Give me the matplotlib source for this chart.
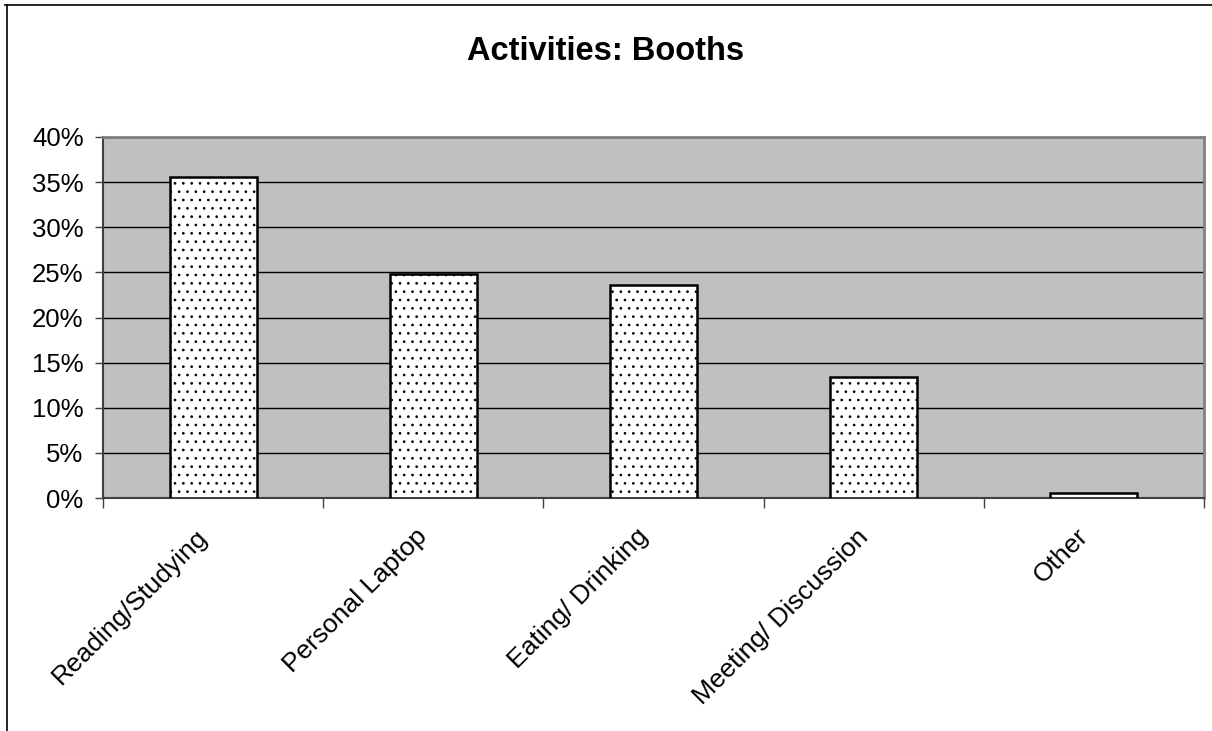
import matplotlib
matplotlib.use("Agg")
import matplotlib.pyplot as plt
from matplotlib.lines import Line2D
from matplotlib.ticker import PercentFormatter
from matplotlib.transforms import ScaledTranslation
import numpy as np

categories = ["Reading/Studying", "Personal Laptop", "Eating/ Drinking",
              "Meeting/ Discussion", "Other"]
shares = [35.6, 24.8, 23.6, 13.4, 0.6]
y_ticks = [0, 5, 10, 15, 20, 25, 30, 35, 40]

plt.rcParams["font.family"] = ["Liberation Sans", "DejaVu Sans"]
plt.rcParams["hatch.linewidth"] = 0.7
plt.rcParams["hatch.color"] = "black"

fig = plt.figure(figsize=(12.12, 7.31), dpi=100)
ax = fig.add_axes([103 / 1212, 1 - 498 / 731, (1204 - 103) / 1212, (498 - 137) / 731])
ax.set_facecolor("#c0c0c0")

x = np.arange(len(categories))
ax.bar(x, shares, width=0.395, color="white", edgecolor="black",
       linewidth=1.8, hatch="..", zorder=3)

ax.set_xlim(-0.5, len(categories) - 0.5)
ax.set_ylim(0, 40)
ax.set_yticks(y_ticks)
ax.yaxis.set_major_formatter(PercentFormatter(decimals=0))
ax.grid(axis="y", color="black", linewidth=1, zorder=1)
ax.set_axisbelow(True)

# category ticks sit between the bars, labels at the bar centres
ax.set_xticks(np.arange(len(categories) + 1) - 0.5)
ax.set_xticklabels([])
ax.set_xticks(x, minor=True)
ax.set_xticklabels(categories, minor=True, rotation=45, ha="right",
                   va="top", rotation_mode="anchor", fontsize=19)
ax.tick_params(axis="x", which="minor", length=0, pad=19)
ax.tick_params(axis="x", which="major", length=7, color="#404040", width=1)
ax.tick_params(axis="y", length=6, color="#404040", width=1, labelsize=18.5, pad=8)

shift = ScaledTranslation(-18 / 100, 0, fig.dpi_scale_trans)
for lbl in ax.get_xticklabels(minor=True):
    lbl.set_transform(lbl.get_transform() + shift)

for side in ["top", "right"]:
    ax.spines[side].set_color("#808080")
    ax.spines[side].set_linewidth(2)
for side in ["left", "bottom"]:
    ax.spines[side].set_color("#404040")
    ax.spines[side].set_linewidth(1.5)

fig.text(0.5, 1 - 52 / 731, "Activities: Booths", ha="center", va="center",
         fontsize=23.5, fontweight="bold")

# chart border (only top and left edges are visible in the crop)
fig.add_artist(Line2D([5 / 1212, 1], [1 - 5 / 731, 1 - 5 / 731],
                      transform=fig.transFigure, color="black", linewidth=1.2))
fig.add_artist(Line2D([7 / 1212, 7 / 1212], [0, 1 - 5 / 731],
                      transform=fig.transFigure, color="black", linewidth=1.2))

fig.savefig("out.png", dpi=100)
